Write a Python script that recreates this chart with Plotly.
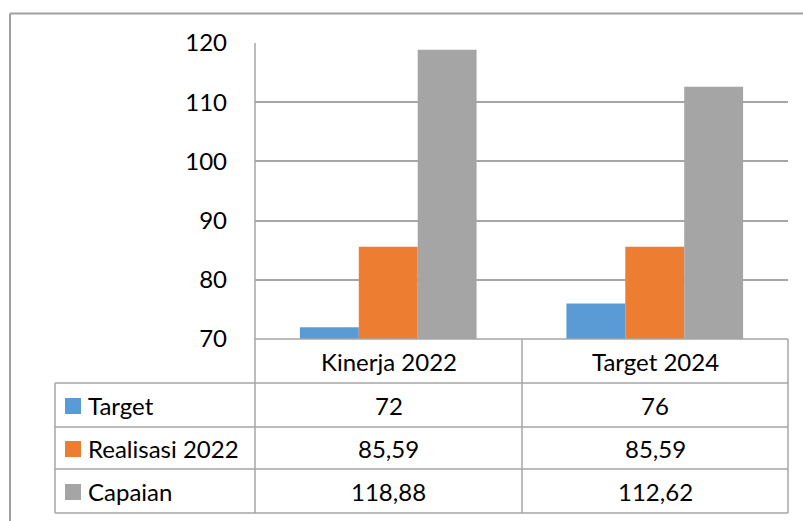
import plotly.graph_objects as go

categories = ["Kinerja 2022", "Target 2024"]
series_names = ["Target", "Realisasi 2022", "Capaian"]
target = [72, 76]
realisasi = [85.59, 85.59]
capaian = [118.88, 112.62]
y_ticks = [70, 80, 90, 100, 110, 120]
colors = ["#5B9BD5", "#ED7D31", "#A5A5A5"]

W, H = 803, 521
FONT = "Lato"
FS = 24
LINE = "#A6A6A6"

def px(x):
    return x / W

def py(y):
    return 1 - y / H

X0, X1 = 255, 788
Y_TOP, Y_BOT = 43, 339
ROWS = [339, 383, 427, 469, 513]
TABLE_LEFT = 55
X_MID = 522

def fmt(v):
    s = f"{v:.2f}".rstrip("0").rstrip(".")
    return s.replace(".", ",")

fig = go.Figure()
all_series = [target, realisasi, capaian]
for name, vals, c in zip(series_names, all_series, colors):
    fig.add_trace(go.Bar(x=categories, y=vals, name=name, marker=dict(color=c, line=dict(width=0)),
                         showlegend=False, hoverinfo="skip"))

shapes = []
def line(x0, y0, x1, y1, color=LINE, w=1.5):
    shapes.append(dict(type="line", xref="paper", yref="paper", x0=px(x0), y0=py(y0),
                       x1=px(x1), y1=py(y1), line=dict(color=color, width=w), layer="above"))

# outer chart border
line(10, 13.5, 803, 13.5, "#A0A0A0", 2)
line(10, 13.5, 10, 521, "#A0A0A0", 2)

# data table lines
line(X0, Y_BOT, X1, Y_BOT)
for yy in ROWS[1:]:
    line(TABLE_LEFT, yy, X1, yy)
line(TABLE_LEFT, ROWS[1], TABLE_LEFT, ROWS[-1])
line(X0, Y_TOP, X0, ROWS[-1])
line(X_MID, Y_BOT, X_MID, ROWS[-1])
line(X1, Y_BOT, X1, ROWS[-1])

annotations = []
col_centers = [(X0 + X_MID) / 2, (X_MID + X1) / 2]
for cat, cx in zip(categories, col_centers):
    annotations.append(dict(text=cat, xref="paper", yref="paper", x=px(cx), y=py((ROWS[0] + ROWS[1]) / 2),
                            showarrow=False, xanchor="center", yanchor="middle",
                            font=dict(family=FONT, size=FS, color="#000")))
for i, (name, vals, c) in enumerate(zip(series_names, all_series, colors)):
    yc = (ROWS[i + 1] + ROWS[i + 2]) / 2
    shapes.append(dict(type="rect", xref="paper", yref="paper", x0=px(65), x1=px(81),
                       y0=py(yc - 8 + 1), y1=py(yc + 8 + 1), fillcolor=c, line=dict(width=0)))
    annotations.append(dict(text=name, xref="paper", yref="paper", x=px(86), y=py(yc),
                            showarrow=False, xanchor="left", yanchor="middle",
                            font=dict(family=FONT, size=FS, color="#000")))
    for v, cx in zip(vals, col_centers):
        annotations.append(dict(text=fmt(v), xref="paper", yref="paper", x=px(cx), y=py(yc),
                                showarrow=False, xanchor="center", yanchor="middle",
                                font=dict(family=FONT, size=FS, color="#000")))

fig.update_layout(
    width=W, height=H,
    margin=dict(l=0, r=0, t=0, b=0, pad=0),
    paper_bgcolor="white", plot_bgcolor="white",
    barmode="group", bargap=0.337, bargroupgap=0,
    xaxis=dict(domain=[px(X0), px(X1)], showticklabels=False, showgrid=False,
               zeroline=False, showline=False, ticks="", automargin=False),
    yaxis=dict(domain=[py(Y_BOT), py(Y_TOP)], range=[70, 120], tickvals=y_ticks,
               showgrid=True, gridcolor=LINE, gridwidth=1.5, zeroline=False, showline=False,
               ticks="", ticklabelstandoff=27, automargin=False,
               tickfont=dict(family=FONT, size=FS, color="#000")),
    shapes=shapes, annotations=annotations,
)

fig.write_html("out.html", config={"displayModeBar": False},
               post_script="document.body.style.margin='0';")
